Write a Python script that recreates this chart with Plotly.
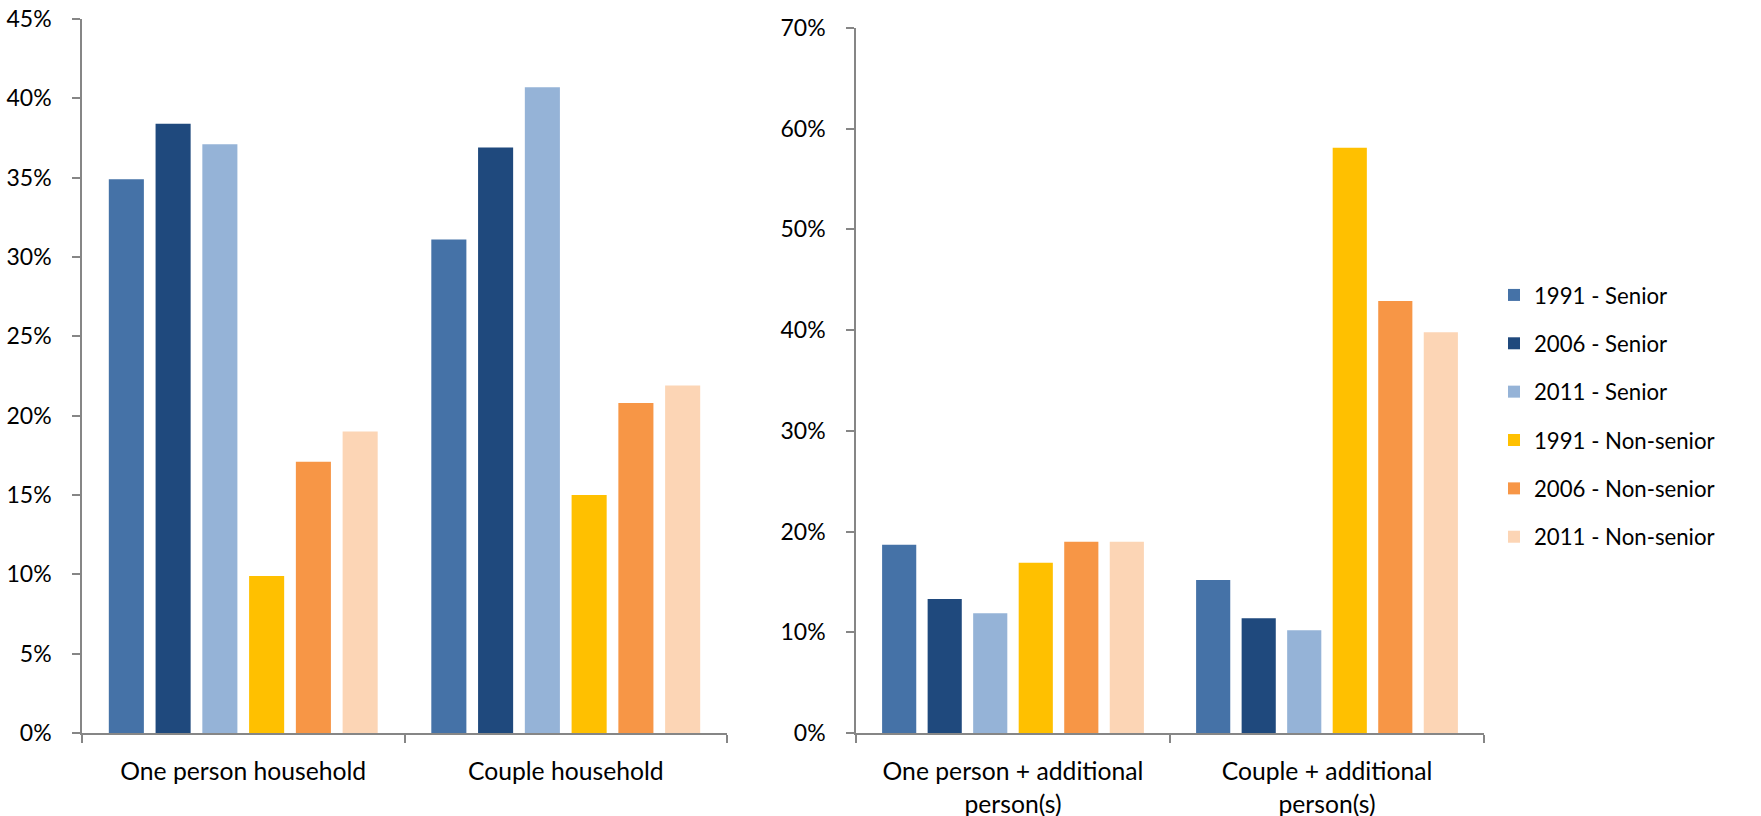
import plotly.graph_objects as go

series_names = ["1991 - Senior", "2006 - Senior", "2011 - Senior",
                "1991 - Non-senior", "2006 - Non-senior", "2011 - Non-senior"]
colors = ["#4572A7", "#1F497D", "#95B3D7", "#FFC000", "#F79646", "#FCD5B5"]

left_categories = ["One person household", "Couple household"]
left_values = [
    [0.349, 0.311],  # 1991 - Senior
    [0.384, 0.369],  # 2006 - Senior
    [0.371, 0.407],  # 2011 - Senior
    [0.099, 0.150],  # 1991 - Non-senior
    [0.171, 0.208],  # 2006 - Non-senior
    [0.190, 0.219],  # 2011 - Non-senior
]

right_categories = ["One person + additional<br>person(s)", "Couple + additional<br>person(s)"]
right_values = [
    [0.187, 0.152],
    [0.133, 0.114],
    [0.119, 0.102],
    [0.169, 0.581],
    [0.190, 0.429],
    [0.190, 0.398],
]

W, H = 1761, 816
FONT = "Lato"
AXIS_COLOR = "#868686"

fig = go.Figure()
for i, name in enumerate(series_names):
    fig.add_trace(go.Bar(
        x=left_categories, y=left_values[i], name=name,
        marker=dict(color=colors[i], line=dict(width=0)),
        xaxis="x", yaxis="y", legendgroup=name, showlegend=True,
    ))
for i, name in enumerate(series_names):
    fig.add_trace(go.Bar(
        x=right_categories, y=right_values[i], name=name,
        marker=dict(color=colors[i], line=dict(width=0)),
        xaxis="x2", yaxis="y2", legendgroup=name, showlegend=False,
    ))

def px_x(p):
    return p / W

def px_y(p):
    return 1 - p / H

common_x = dict(type="category", showgrid=False, zeroline=False, showline=True,
                linecolor=AXIS_COLOR, linewidth=1.5, ticks="outside", ticklen=8,
                tickcolor=AXIS_COLOR, tickwidth=1.5, tickson="boundaries",
                tickfont=dict(family=FONT, size=24.7, color="#000000"),
                ticklabelstandoff=16, automargin=False, fixedrange=True)
common_y = dict(showgrid=False, zeroline=False, showline=True,
                linecolor=AXIS_COLOR, linewidth=1.5, ticks="outside", ticklen=8,
                tickcolor=AXIS_COLOR, tickwidth=1.5, tickformat=".0%",
                tickfont=dict(family=FONT, size=23, color="#000000"),
                ticklabelstandoff=16, automargin=False, fixedrange=True)

fig.update_layout(
    width=W, height=H,
    margin=dict(l=0, r=0, t=0, b=0),
    paper_bgcolor="white", plot_bgcolor="white",
    barmode="group", bargap=0.13, bargroupgap=0.25,
    font=dict(family=FONT, size=23, color="#000000"),
    xaxis=dict(domain=[px_x(82), px_x(727)], anchor="y", **common_x),
    yaxis=dict(domain=[px_y(733), px_y(19)], anchor="x", range=[0, 0.45],
               dtick=0.05, **common_y),
    xaxis2=dict(domain=[px_x(856), px_x(1484)], anchor="y2", **common_x),
    yaxis2=dict(domain=[px_y(733), px_y(28)], anchor="x2", range=[0, 0.70],
                dtick=0.1, **common_y),
    legend=dict(x=px_x(1494), y=px_y(274), xanchor="left", yanchor="top",
                font=dict(family=FONT, size=22.2, color="#000000"),
                tracegroupgap=16.5, bgcolor="rgba(0,0,0,0)", itemwidth=30,
                traceorder="grouped"),
)

fig.write_html("out.html")
